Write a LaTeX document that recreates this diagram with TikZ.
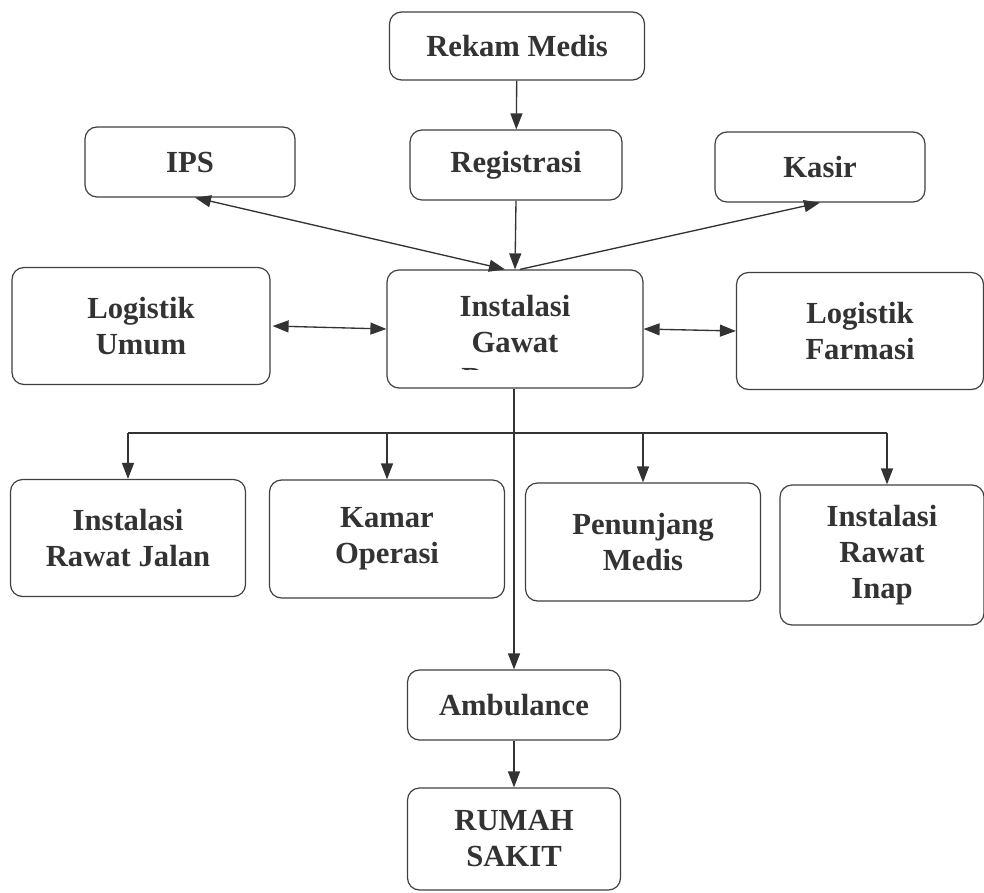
\documentclass[tikz,border=0pt]{standalone}
\usepackage{fontspec}
\setmainfont{Liberation Serif}
\usetikzlibrary{arrows.meta}
\begin{document}
\begin{tikzpicture}[x=0.75pt,y=-0.75pt,
  lbl/.style={align=center, font=\fontsize{23}{27}\selectfont\bfseries, text=black!80},
  box/.style={lbl, draw=black!75, line width=0.9pt, rounded corners=9pt, fill=white, inner sep=0pt},
  conn/.style={draw=black!80, line width=1pt, -{Triangle[length=12pt,width=9pt]}},
  bconn/.style={draw=black!80, line width=1pt, {Triangle[length=12pt,width=9pt]}-{Triangle[length=12pt,width=9pt]}}]
\useasboundingbox (0,0) rectangle (984,892);
\fill[white] (0,0) rectangle (984,892);
% nodes
\node[box, minimum width=255*0.75pt, minimum height=68*0.75pt] (rm) at (517,46) {Rekam Medis};
\node[box, minimum width=210*0.75pt, minimum height=70*0.75pt] (ips) at (190,162) {IPS};
\node[box, minimum width=212*0.75pt, minimum height=70*0.75pt] (reg) at (516,165) {Registrasi};
\node[box, minimum width=210*0.75pt, minimum height=70*0.75pt] (kas) at (820,167) {Kasir};
\node[box, minimum width=258*0.75pt, minimum height=117*0.75pt] (lu) at (141,326) {Logistik\\Umum};
\node[box, minimum width=256*0.75pt, minimum height=118*0.75pt] (igd) at (515,329) {};
\node[box, minimum width=247*0.75pt, minimum height=117*0.75pt] (lf) at (860,331) {Logistik\\Farmasi};
\begin{scope}
  \clip (390,280) rectangle (640,369);
  \node[lbl] at (515,342) {Instalasi\\Gawat\\Darurat};
\end{scope}
\node[box, minimum width=235*0.75pt, minimum height=117*0.75pt] (irj) at (128,538) {Instalasi\\Rawat Jalan};
\node[box, minimum width=235*0.75pt, minimum height=118*0.75pt] (ko) at (387,539) {Kamar\\Operasi};
\node[box, minimum width=235*0.75pt, minimum height=118*0.75pt] (pm) at (643,542) {Penunjang\\Medis};
\node[box, minimum width=204*0.75pt, minimum height=140*0.75pt] (iri) at (882,555) {Instalasi\\Rawat\\Inap};
\node[box, minimum width=213*0.75pt, minimum height=70*0.75pt] (amb) at (514,705) {Ambulance};
\node[box, minimum width=213*0.75pt, minimum height=102*0.75pt] (rs) at (514,839) {RUMAH\\SAKIT};
% connectors
\draw[conn] (rm) -- (reg);
\draw[conn] (reg.south) -- (igd.north);
\coordinate (ipsend) at ([xshift=5*0.75pt]ips.south);
\coordinate (igdl) at ([xshift=-10*0.75pt]igd.north);
\coordinate (igdr) at ([xshift=5*0.75pt]igd.north);
\draw[bconn] (igdl) -- (ipsend);
\draw[conn] (igdr) -- (kas.south);
\draw[bconn] ([xshift=2*0.75pt]lu.east) -- (igd.west);
\draw[bconn] (igd.east) -- (lf.west);
\coordinate (bus) at (514,433);
\coordinate (busl) at (128,433);
\coordinate (busr) at (887,433);
\draw[conn] (igd.south -| bus) -- (amb.north);
\draw[draw=black!80, line width=1pt] (busl) -- (busr);
\draw[conn] (busl) -- (irj.north);
\draw[conn] (busl -| ko.north) -- (ko.north);
\draw[conn] (busl -| pm.north) -- (pm.north);
\draw[conn] (busr) -- (busr |- iri.north);
\draw[conn] (amb) -- (rs);
\end{tikzpicture}
\end{document}
